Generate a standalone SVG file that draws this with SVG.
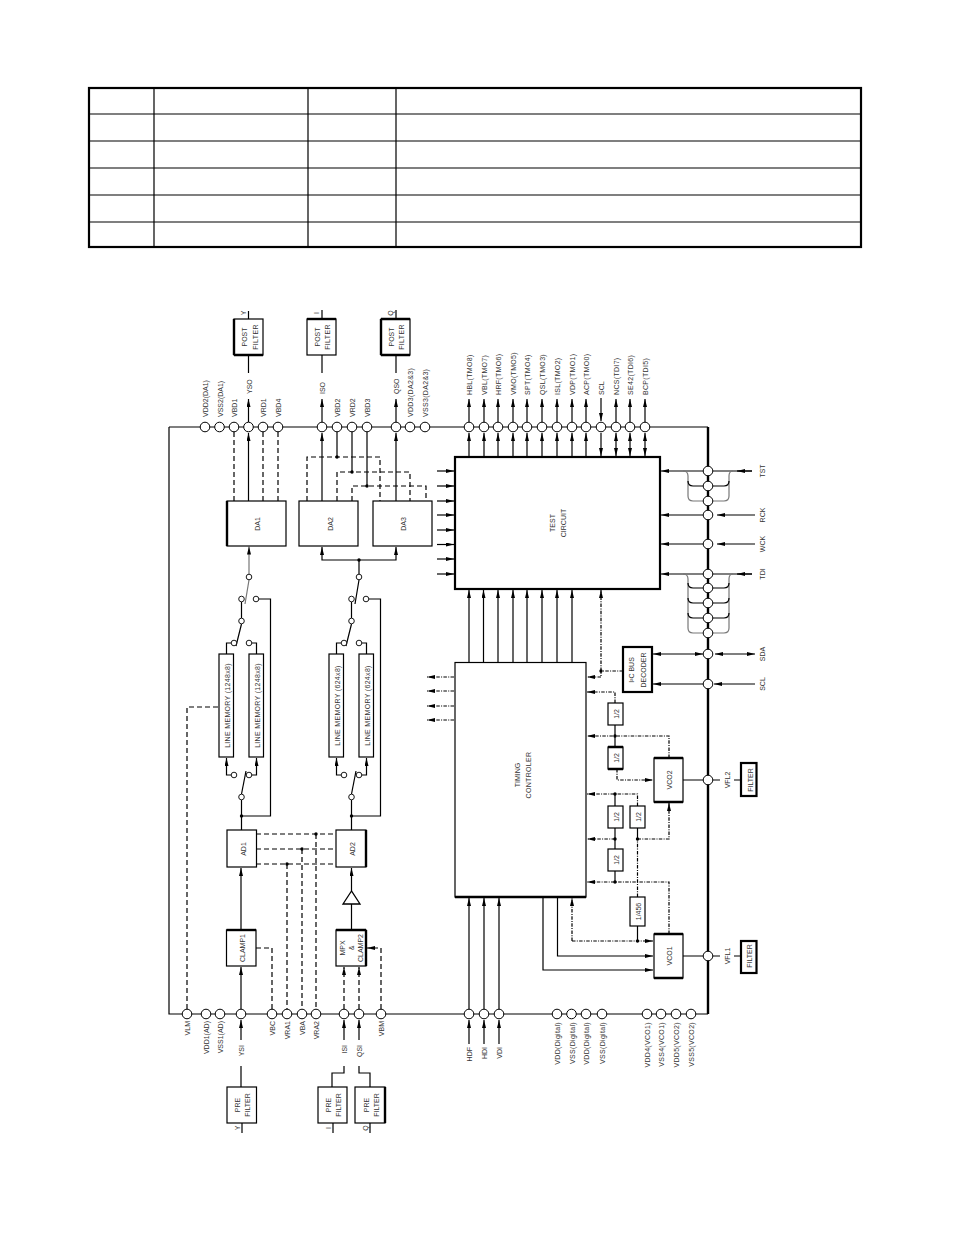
<svg xmlns="http://www.w3.org/2000/svg" width="954" height="1235" viewBox="0 0 954 1235">
<style>
text{font-family:"Liberation Sans",Arial,sans-serif;font-size:7px;fill:#333}
.m{text-anchor:middle}.e{text-anchor:end}
.ls{letter-spacing:.32px}
.b{fill:#fff;stroke:#000;stroke-width:1.2}
.B{fill:#fff;stroke:#000;stroke-width:2.2}
.t{fill:none;stroke:#000;stroke-width:2.2}
.p{fill:#fff;stroke:#000;stroke-width:1}
.s{fill:#fff;stroke:#000;stroke-width:.9}
.j{fill:#000}
path{fill:none;stroke:#000;stroke-width:1.2}
.d{stroke-dasharray:5 3}
.o{stroke-dasharray:3.500 1.300 1 1.300}
.a{marker-end:url(#ah)}
.aa{marker-end:url(#ah);marker-start:url(#ah)}
.g{stroke:#777}
.k{stroke-width:2.4}
</style>
<defs><marker id="ah" markerUnits="userSpaceOnUse" viewBox="0 0 8 4" refX="8" refY="2" markerWidth="8" markerHeight="4" orient="auto-start-reverse"><path d="M0 0L8 2L0 4z" style="fill:#000;stroke:none"/></marker></defs>

<g id="table"><rect x="89" y="88" width="772" height="159" class="t"/>
<path d="M154 88V247M308 88V247M396 88V247M89 114H861M89 141H861M89 168H861M89 195H861M89 222H861"/></g>

<g id="connectors">
<path d="M169 427H708M169 427V1014H708"/>
<path class="k" d="M708 427V1014"/>
<path class="a" d="M248.500 422V399"/><path class="a" d="M322 422V399"/><path class="a" d="M396 422V399"/><path class="a" d="M469 422V399"/><path class="a" d="M484 422V399"/><path class="a" d="M498 422V399"/><path class="a" d="M513 422V399"/><path class="a" d="M527 422V399"/><path class="a" d="M542 422V399"/><path class="a" d="M557 422V399"/><path class="a" d="M572 422V399"/><path class="a" d="M586 422V399"/><path class="a" d="M616 422V399"/><path class="a" d="M630 422V399"/><path class="a" d="M645 422V399"/><path class="a" d="M601 398V421"/>
<path d="M248.500 373V355M322 373V355M396 373V355M248.500 311V319M322 310V319M396 310V319"/>
<path class="a" d="M248.500 501V433"/><path class="a" d="M322 501V433"/><path class="a" d="M396 501V433"/><path class="a" d="M469 457V433"/><path class="a" d="M484 457V433"/><path class="a" d="M498 457V433"/><path class="a" d="M513 457V433"/><path class="a" d="M527 457V433"/><path class="a" d="M542 457V433"/><path class="a" d="M557 457V433"/><path class="a" d="M572 457V433"/><path class="a" d="M586 457V433"/><path class="a" d="M601 433V456"/>
<path class="aa" d="M616 456V433"/><path class="aa" d="M630 456V433"/><path class="aa" d="M645 456V433"/>
<path class="d" d="M234 432V501M263 432V501M278 432V501M307 501V457H380V501M337 501V472H410V501M352 501V486H426V501"/>
<path d="M337 432V457M352 432V472M367 432V486"/>
<circle class="j" cx="337" cy="457" r="1.700"/><circle class="j" cx="352" cy="472" r="1.700"/><circle class="j" cx="367" cy="486" r="1.700"/>
<path class="a" d="M437 471H454"/><path class="a" d="M437 486H454"/><path class="a" d="M437 501H454"/><path class="a" d="M437 515H454"/><path class="a" d="M437 530H454"/><path class="a" d="M437 544.500H454"/><path class="a" d="M437 559H454"/><path class="a" d="M437 574H454"/>
<path class="a" d="M469 662V590"/><path class="a" d="M483.500 662V590"/><path class="a" d="M498 662V590"/><path class="a" d="M513 662V590"/><path class="a" d="M527 662V590"/><path class="a" d="M542 662V590"/><path class="a" d="M557 662V590"/><path class="a" d="M572 662V590"/>
<path class="o a" d="M601 671V590"/>
<path class="o" d="M623 671H601V677"/>
<path class="o a" d="M601 677H587"/>
<circle class="j" cx="601" cy="671" r="1.700"/>
<path class="o a" d="M454 677H427"/><path class="o a" d="M454 691H427"/><path class="o a" d="M454 706H427"/><path class="o a" d="M454 720H427"/>
<path class="a" d="M752 471H737"/><path class="a" d="M703 471H661"/><path class="a" d="M755 515H717"/><path class="a" d="M703 515H661"/><path class="a" d="M755 544H717"/><path class="a" d="M703 544H661"/><path class="a" d="M752 574H737"/><path class="a" d="M703 574H661"/><path class="a" d="M755 684H714"/><path class="a" d="M703 684H653"/>
<path d="M752 471H713M752 574H713"/>
<path class="aa" d="M653 654H703"/><path class="aa" d="M715 654H755"/>
<path class="g" d="M683 471Q688 471 688 476V496Q688 501 693 501H703M733 471Q729 471 729 476V496Q729 501 724 501H713"/>
<path d="M688 481Q688 486 693 486H703M729 481Q729 486 724 486H713"/>
<path class="g" d="M683 574Q688 574 688 579V628Q688 633 693 633H703M733 574Q729 574 729 579V628Q729 633 724 633H713"/>
<path d="M688 583Q688 588 693 588H703M729 583Q729 588 724 588H713M688 598Q688 603 693 603H703M729 598Q729 603 724 603H713M688 613Q688 618 693 618H703M729 613Q729 618 724 618H713"/>
<path d="M683 780H703M713 780H720M734 780H741M683 956H703M713 956H720M734 956H741"/>
<path class="g a" d="M249 574V546.500"/>
<path class="g" d="M249 580L245 604"/>
<path d="M241.500 602V618M241.500 624L236 646"/>
<path d="M259 599H270.500V816H241.500M241.500 830V800"/>
<path d="M231 643H226.500V654M252 643H256.500V654"/>
<path class="a" d="M231 775H226.500V758"/><path class="a" d="M252 775H256.500V758"/>
<path d="M241.500 794L246 771"/>
<circle class="j" cx="241.500" cy="816" r="1.700"/>
<circle class="s" cx="249" cy="577" r="2.800"/><circle class="s" cx="241.500" cy="599" r="2.800"/><circle class="s" cx="256" cy="599" r="2.800"/><circle class="s" cx="241.500" cy="621" r="2.800"/><circle class="s" cx="234" cy="643" r="2.800"/><circle class="s" cx="249" cy="643" r="2.800"/><circle class="s" cx="241.500" cy="797" r="2.800"/><circle class="s" cx="234" cy="775" r="2.800"/><circle class="s" cx="249" cy="775" r="2.800"/>
<path class="a" d="M359 560H322V547"/><path class="a" d="M359 560H396V547"/>
<path d="M359 560V574M359 580L355 604"/>
<circle class="j" cx="359" cy="560" r="1.700"/>
<path d="M351.500 602V618M351.500 624L346 646"/>
<path d="M369 599H380.500V816H351.500M351.500 830V800"/>
<path d="M341 643H336.500V654M362 643H366.500V654"/>
<path class="a" d="M341 775H336.500V758"/><path class="a" d="M362 775H366.500V758"/>
<path d="M351.500 794L356 771"/>
<circle class="j" cx="351.500" cy="816" r="1.700"/>
<circle class="s" cx="359" cy="577" r="2.800"/><circle class="s" cx="351.500" cy="599" r="2.800"/><circle class="s" cx="366" cy="599" r="2.800"/><circle class="s" cx="351.500" cy="621" r="2.800"/><circle class="s" cx="344" cy="643" r="2.800"/><circle class="s" cx="359" cy="643" r="2.800"/><circle class="s" cx="351.500" cy="797" r="2.800"/><circle class="s" cx="344" cy="775" r="2.800"/><circle class="s" cx="359" cy="775" r="2.800"/>
<path class="d" d="M256 834H336M256 849H336M256 864H336M316 834V1009M302 849V1009M287 864V1009M272 1009V948H256M187 1009V707H219"/>
<circle class="j" cx="316" cy="834" r="1.700"/><circle class="j" cx="302" cy="849" r="1.700"/><circle class="j" cx="287" cy="864" r="1.700"/>
<path class="a" d="M241 930V868"/><path class="a" d="M351.500 891V868"/><path class="a" d="M241 1009V967"/><path class="a" d="M241 1040V1020"/><path class="a" d="M344 1040V1020"/><path class="a" d="M359 1040V1020"/><path class="a" d="M469 1044V1020"/><path class="a" d="M484 1044V1020"/><path class="a" d="M499 1044V1020"/>
<path d="M351.500 930V904"/>
<path class="d a" d="M344 1009V967"/><path class="d a" d="M359 1009V967"/><path class="d a" d="M381 1009V948H367"/>
<path d="M241 1066V1087M344 1066V1073H332V1087M359 1066V1073H370V1087M242 1123V1133M333 1123V1133M370 1123V1133"/>
<path class="a" d="M469 1009V898"/><path class="a" d="M484 1009V898"/><path class="a" d="M499 1009V898"/><path class="a" d="M543 897V970H653"/><path class="a" d="M557.500 897V956H653"/>
<path class="o a" d="M572 941V898"/><path class="o a" d="M572 941H653"/>
<path d="M637.500 926V941M637.500 839V828"/>
<path class="o" d="M637.500 897V839"/>
<circle class="j" cx="637.500" cy="941" r="1.700"/>
<path class="o a" d="M637.500 839H669V803"/>
<circle class="j" cx="637.500" cy="839" r="1.700"/>
<path class="o a" d="M669 934V882H587"/>
<path d="M615 871V882M615 849V828M615 747V725"/>
<path class="o a" d="M615 839H587"/>
<path class="o a" d="M637.500 806V794H587"/>
<path class="o a" d="M669 758V736H587"/>
<path class="o a" d="M615 703V692H587"/>
<path class="o a" d="M617 769V780H653"/>
<circle class="j" cx="615" cy="882" r="1.700"/><circle class="j" cx="615" cy="839" r="1.700"/><circle class="j" cx="615" cy="794" r="1.700"/><circle class="j" cx="615" cy="736" r="1.700"/>
<path d="M615 794V806"/>
</g>

<g id="node-post-y"><rect class="b" x="234" y="319" width="29" height="36"/><path class="k" d="M234 319V355M234 355H263"/><text transform="translate(247 337) rotate(-90)" class="m">POST</text><text transform="translate(257.500 337) rotate(-90)" class="m ls">FILTER</text><text transform="translate(246 313) rotate(-90)" class="m">Y</text></g>
<g id="node-post-i"><rect class="b" x="307" y="319" width="29" height="36"/><path class="k" d="M307 319H336"/><text transform="translate(320 337) rotate(-90)" class="m">POST</text><text transform="translate(330 337) rotate(-90)" class="m ls">FILTER</text><text transform="translate(319 313) rotate(-90)" class="m">I</text></g>
<g id="node-post-q"><rect class="b" x="381" y="319" width="29" height="36"/><path class="k" d="M381 319V355M381 319H410M381 355H410"/><text transform="translate(393.500 337) rotate(-90)" class="m">POST</text><text transform="translate(403.500 337) rotate(-90)" class="m ls">FILTER</text><text transform="translate(393 313) rotate(-90)" class="m">Q</text></g>
<g id="node-da1"><rect class="b" x="227" y="501" width="59" height="45"/><path class="k" d="M227 501V546"/><text transform="translate(260 524) rotate(-90)" class="m">DA1</text></g>
<g id="node-da2"><rect class="b" x="299" y="501" width="59" height="45"/><text transform="translate(332.500 524) rotate(-90)" class="m">DA2</text></g>
<g id="node-da3"><rect class="b" x="373" y="501" width="59" height="45"/><text transform="translate(406 524) rotate(-90)" class="m">DA3</text></g>
<g id="node-test"><rect class="B" x="455" y="457" width="205" height="132"/><text transform="translate(555 523) rotate(-90)" class="m">TEST</text><text transform="translate(566 523) rotate(-90)" class="m">CIRCUIT</text></g>
<g id="node-timing"><rect class="b" x="455" y="662.500" width="131" height="234.500"/><path class="k" d="M455 897H586"/><text transform="translate(520 775) rotate(-90)" class="m">TIMING</text><text transform="translate(531 775) rotate(-90)" class="m ls">CONTROLER</text></g>
<g id="node-decoder"><rect class="B" x="623" y="647" width="29" height="45"/><text transform="translate(634 670) rotate(-90)" class="m">I²C BUS</text><text transform="translate(646 670) rotate(-90)" class="m">DECODER</text></g>
<g id="node-vco2"><rect class="b" x="654" y="758" width="29" height="44"/><path class="k" d="M654 758H683M654 802H683"/><text transform="translate(671.500 780) rotate(-90)" class="m">VCO2</text></g>
<g id="node-vco1"><rect class="b" x="654" y="934" width="29" height="44"/><path class="k" d="M654 934H683M654 978H683"/><text transform="translate(672 956) rotate(-90)" class="m">VCO1</text></g>
<g id="node-filter2"><rect class="B" x="741" y="763" width="15.500" height="33"/><text transform="translate(753 780) rotate(-90)" class="m">FILTER</text></g>
<g id="node-filter1"><rect class="B" x="741" y="941" width="15.500" height="32"/><text transform="translate(752 956) rotate(-90)" class="m">FILTER</text></g>
<g id="node-div-a"><rect class="b" x="608" y="703" width="15" height="22"/><text transform="translate(619 714) rotate(-90)" class="m">1/2</text></g>
<g id="node-div-b"><rect class="b" x="608" y="747" width="15" height="22"/><path class="k" d="M608 747H623M608 769H623"/><text transform="translate(619 758) rotate(-90)" class="m">1/2</text></g>
<g id="node-div-c"><rect class="b" x="608" y="806" width="15" height="22"/><text transform="translate(619 817) rotate(-90)" class="m">1/2</text></g>
<g id="node-div-d"><rect class="b" x="608" y="849" width="15" height="22"/><text transform="translate(619 860) rotate(-90)" class="m">1/2</text></g>
<g id="node-div-e"><rect class="b" x="630" y="806" width="15" height="22"/><text transform="translate(641 817) rotate(-90)" class="m">1/2</text></g>
<g id="node-div-456"><rect class="b" x="630" y="897" width="15" height="29"/><text transform="translate(641 911.500) rotate(-90)" class="m">1/456</text></g>
<g id="node-mem1"><rect class="b" x="219" y="654" width="14.500" height="103"/><text transform="translate(230 705.500) rotate(-90)" class="m ls">LINE MEMORY (1248x8)</text></g>
<g id="node-mem2"><rect class="b" x="249" y="654" width="14.500" height="103"/><text transform="translate(260 705.500) rotate(-90)" class="m ls">LINE MEMORY (1248x8)</text></g>
<g id="node-mem3"><rect class="b" x="329" y="654" width="14.500" height="103"/><text transform="translate(340 705.500) rotate(-90)" class="m ls">LINE MEMORY (624x8)</text></g>
<g id="node-mem4"><rect class="b" x="359" y="654" width="14.500" height="103"/><text transform="translate(370 705.500) rotate(-90)" class="m ls">LINE MEMORY (624x8)</text></g>
<g id="node-ad1"><rect class="b" x="227" y="830" width="29.500" height="37"/><text transform="translate(246 849) rotate(-90)" class="m">AD1</text></g>
<g id="node-ad2"><rect class="b" x="336" y="830" width="30" height="37"/><path class="k" d="M366 830V867"/><text transform="translate(354.500 849) rotate(-90)" class="m">AD2</text></g>
<g id="node-clamp1"><rect class="b" x="226.500" y="930" width="29.500" height="36"/><path class="k" d="M226.500 930H256"/><text transform="translate(245 948) rotate(-90)" class="m">CLAMP1</text></g>
<g id="node-clamp2"><rect class="b" x="336" y="930" width="30" height="36"/><path class="k" d="M336 930H366M366 930V966"/><text transform="translate(345 948) rotate(-90)" class="m">MPX</text><text transform="translate(353.500 948) rotate(-90)" class="m">&amp;</text><text transform="translate(362.500 948) rotate(-90)" class="m">CLAMP2</text></g>
<g id="node-amp"><path d="M351.500 891L343 904H360Z" style="fill:#fff;stroke-width:1.300"/></g>
<g id="node-pre-y"><rect class="b" x="227" y="1087" width="29.500" height="36"/><text transform="translate(240 1105) rotate(-90)" class="m">PRE</text><text transform="translate(250 1105) rotate(-90)" class="m">FILTER</text><text transform="translate(240 1128) rotate(-90)" class="m">Y</text></g>
<g id="node-pre-i"><rect class="b" x="318" y="1087" width="29" height="36"/><text transform="translate(331 1105) rotate(-90)" class="m">PRE</text><text transform="translate(341 1105) rotate(-90)" class="m">FILTER</text><text transform="translate(330.500 1128) rotate(-90)" class="m">I</text></g>
<g id="node-pre-q"><rect class="b" x="355" y="1087" width="30" height="36"/><path class="k" d="M385 1087V1123"/><text transform="translate(368.500 1105) rotate(-90)" class="m">PRE</text><text transform="translate(378.500 1105) rotate(-90)" class="m">FILTER</text><text transform="translate(368 1128) rotate(-90)" class="m">Q</text></g>

<g id="pins-top">
<g id="pin-vdd2"><circle class="p" cx="205" cy="427" r="4.800"/><text transform="translate(208 417) rotate(-90)">VDD2(DA1)</text></g>
<g id="pin-vss2"><circle class="p" cx="219.500" cy="427" r="4.800"/><text transform="translate(222.500 417) rotate(-90)">VSS2(DA1)</text></g>
<g id="pin-vbd1"><circle class="p" cx="234" cy="427" r="4.800"/><text transform="translate(237 417) rotate(-90)">VBD1</text></g>
<g id="pin-yso"><circle class="p" cx="248.500" cy="427" r="4.800"/><text transform="translate(251.500 394) rotate(-90)">YSO</text></g>
<g id="pin-vrd1"><circle class="p" cx="263" cy="427" r="4.800"/><text transform="translate(266 417) rotate(-90)">VRD1</text></g>
<g id="pin-vbd4"><circle class="p" cx="278" cy="427" r="4.800"/><text transform="translate(281 417) rotate(-90)">VBD4</text></g>
<g id="pin-iso"><circle class="p" cx="322" cy="427" r="4.800"/><text transform="translate(325 394) rotate(-90)">ISO</text></g>
<g id="pin-vbd2"><circle class="p" cx="337" cy="427" r="4.800"/><text transform="translate(340 417) rotate(-90)">VBD2</text></g>
<g id="pin-vrd2"><circle class="p" cx="352" cy="427" r="4.800"/><text transform="translate(355 417) rotate(-90)">VRD2</text></g>
<g id="pin-vbd3"><circle class="p" cx="367" cy="427" r="4.800"/><text transform="translate(370 417) rotate(-90)">VBD3</text></g>
<g id="pin-qso"><circle class="p" cx="396" cy="427" r="4.800"/><text transform="translate(399 394) rotate(-90)">QSO</text></g>
<g id="pin-vdd3"><circle class="p" cx="410" cy="427" r="4.800"/><text transform="translate(413 417) rotate(-90)" class="ls">VDD3(DA2&amp;3)</text></g>
<g id="pin-vss3"><circle class="p" cx="425" cy="427" r="4.800"/><text transform="translate(428 417) rotate(-90)" class="ls">VSS3(DA2&amp;3)</text></g>
<g id="pin-hbl"><circle class="p" cx="469" cy="427" r="4.800"/><text transform="translate(472 395) rotate(-90)" class="ls">HBL(TMO8)</text></g>
<g id="pin-vbl"><circle class="p" cx="484" cy="427" r="4.800"/><text transform="translate(487 395) rotate(-90)" class="ls">VBL(TMO7)</text></g>
<g id="pin-hrf"><circle class="p" cx="498" cy="427" r="4.800"/><text transform="translate(501 395) rotate(-90)" class="ls">HRF(TMO6)</text></g>
<g id="pin-vmo"><circle class="p" cx="513" cy="427" r="4.800"/><text transform="translate(516 395) rotate(-90)" class="ls">VMO(TMO5)</text></g>
<g id="pin-spt"><circle class="p" cx="527" cy="427" r="4.800"/><text transform="translate(530 395) rotate(-90)" class="ls">SPT(TMO4)</text></g>
<g id="pin-qsl"><circle class="p" cx="542" cy="427" r="4.800"/><text transform="translate(545 395) rotate(-90)" class="ls">QSL(TMO3)</text></g>
<g id="pin-isl"><circle class="p" cx="557" cy="427" r="4.800"/><text transform="translate(560 395) rotate(-90)" class="ls">ISL(TMO2)</text></g>
<g id="pin-vdp"><circle class="p" cx="572" cy="427" r="4.800"/><text transform="translate(575 395) rotate(-90)" class="ls">VDP(TMO1)</text></g>
<g id="pin-acp"><circle class="p" cx="586" cy="427" r="4.800"/><text transform="translate(589 395) rotate(-90)" class="ls">ACP(TMO0)</text></g>
<g id="pin-scl-top"><circle class="p" cx="601" cy="427" r="4.800"/><text transform="translate(604 395) rotate(-90)">SCL</text></g>
<g id="pin-ncs"><circle class="p" cx="616" cy="427" r="4.800"/><text transform="translate(619 395) rotate(-90)" class="ls">NCS(TDI7)</text></g>
<g id="pin-se42"><circle class="p" cx="630" cy="427" r="4.800"/><text transform="translate(633 395) rotate(-90)" class="ls">SE42(TDI6)</text></g>
<g id="pin-bcp"><circle class="p" cx="645" cy="427" r="4.800"/><text transform="translate(648 395) rotate(-90)" class="ls">BCP(TDI5)</text></g>
</g>

<g id="pins-right">
<g id="pin-tst"><circle class="p" cx="708" cy="471" r="4.800"/><text transform="translate(765 471) rotate(-90)" class="m">TST</text></g>
<circle id="pin-t1" class="p" cx="708" cy="486" r="4.800"/><circle id="pin-t2" class="p" cx="708" cy="501" r="4.800"/>
<g id="pin-rck"><circle class="p" cx="708" cy="515" r="4.800"/><text transform="translate(765 515) rotate(-90)" class="m">RCK</text></g>
<g id="pin-wck"><circle class="p" cx="708" cy="544" r="4.800"/><text transform="translate(765 544) rotate(-90)" class="m">WCK</text></g>
<g id="pin-tdi"><circle class="p" cx="708" cy="574" r="4.800"/><text transform="translate(765 574) rotate(-90)" class="m">TDI</text></g>
<circle id="pin-t3" class="p" cx="708" cy="588" r="4.800"/><circle id="pin-t4" class="p" cx="708" cy="603" r="4.800"/><circle id="pin-t5" class="p" cx="708" cy="618" r="4.800"/><circle id="pin-t6" class="p" cx="708" cy="633" r="4.800"/>
<g id="pin-sda"><circle class="p" cx="708" cy="654" r="4.800"/><text transform="translate(765 654) rotate(-90)" class="m">SDA</text></g>
<g id="pin-scl"><circle class="p" cx="708" cy="684" r="4.800"/><text transform="translate(765 684) rotate(-90)" class="m">SCL</text></g>
<g id="pin-vfl2"><circle class="p" cx="708" cy="780" r="4.800"/><text transform="translate(730 780) rotate(-90)" class="m">VFL2</text></g>
<g id="pin-vfl1"><circle class="p" cx="708" cy="956" r="4.800"/><text transform="translate(730 956) rotate(-90)" class="m">VFL1</text></g>
</g>

<g id="pins-bottom">
<g id="pin-vlm"><circle class="p" cx="187" cy="1014" r="4.800"/><text transform="translate(190 1021) rotate(-90)" class="e">VLM</text></g>
<g id="pin-vdd1"><circle class="p" cx="206" cy="1014" r="4.800"/><text transform="translate(209 1021) rotate(-90)" class="e">VDD1(AD)</text></g>
<g id="pin-vss1"><circle class="p" cx="220" cy="1014" r="4.800"/><text transform="translate(223 1021) rotate(-90)" class="e">VSS1(AD)</text></g>
<g id="pin-ysi"><circle class="p" cx="241" cy="1014" r="4.800"/><text transform="translate(244 1045) rotate(-90)" class="e">YSI</text></g>
<g id="pin-vbc"><circle class="p" cx="272" cy="1014" r="4.800"/><text transform="translate(275 1021) rotate(-90)" class="e">VBC</text></g>
<g id="pin-vra1"><circle class="p" cx="287" cy="1014" r="4.800"/><text transform="translate(290 1021) rotate(-90)" class="e">VRA1</text></g>
<g id="pin-vba"><circle class="p" cx="302" cy="1014" r="4.800"/><text transform="translate(305 1021) rotate(-90)" class="e">VBA</text></g>
<g id="pin-vra2"><circle class="p" cx="316" cy="1014" r="4.800"/><text transform="translate(319 1021) rotate(-90)" class="e">VRA2</text></g>
<g id="pin-isi"><circle class="p" cx="344" cy="1014" r="4.800"/><text transform="translate(347 1045) rotate(-90)" class="e">ISI</text></g>
<g id="pin-qsi"><circle class="p" cx="359" cy="1014" r="4.800"/><text transform="translate(362 1045) rotate(-90)" class="e">QSI</text></g>
<g id="pin-vbm"><circle class="p" cx="381" cy="1014" r="4.800"/><text transform="translate(384 1021) rotate(-90)" class="e">VBM</text></g>
<g id="pin-hdf"><circle class="p" cx="469" cy="1014" r="4.800"/><text transform="translate(472 1047) rotate(-90)" class="e">HDF</text></g>
<g id="pin-hdi"><circle class="p" cx="484" cy="1014" r="4.800"/><text transform="translate(487 1047) rotate(-90)" class="e">HDI</text></g>
<g id="pin-vdi"><circle class="p" cx="499" cy="1014" r="4.800"/><text transform="translate(502 1047) rotate(-90)" class="e">VDI</text></g>
<g id="pin-dig1"><circle class="p" cx="557" cy="1014" r="4.800"/><text transform="translate(560 1022) rotate(-90)" class="e ls">VDD(Digital)</text></g>
<g id="pin-dig2"><circle class="p" cx="571.500" cy="1014" r="4.800"/><text transform="translate(574.500 1022) rotate(-90)" class="e ls">VSS(Digital)</text></g>
<g id="pin-dig3"><circle class="p" cx="586" cy="1014" r="4.800"/><text transform="translate(589 1022) rotate(-90)" class="e ls">VDD(Digital)</text></g>
<g id="pin-dig4"><circle class="p" cx="602" cy="1014" r="4.800"/><text transform="translate(605 1022) rotate(-90)" class="e ls">VSS(Digital)</text></g>
<g id="pin-vdd4"><circle class="p" cx="647" cy="1014" r="4.800"/><text transform="translate(650 1022) rotate(-90)" class="e ls">VDD4(VCO1)</text></g>
<g id="pin-vss4"><circle class="p" cx="661" cy="1014" r="4.800"/><text transform="translate(664 1022) rotate(-90)" class="e ls">VSS4(VCO1)</text></g>
<g id="pin-vdd5"><circle class="p" cx="676" cy="1014" r="4.800"/><text transform="translate(679 1022) rotate(-90)" class="e ls">VDD5(VCO2)</text></g>
<g id="pin-vss5"><circle class="p" cx="691" cy="1014" r="4.800"/><text transform="translate(694 1022) rotate(-90)" class="e ls">VSS5(VCO2)</text></g>
</g>
</svg>
